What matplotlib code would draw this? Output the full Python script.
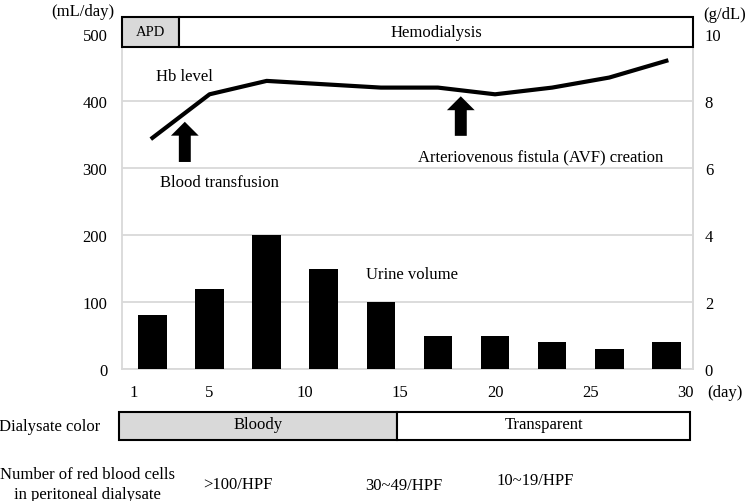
import matplotlib
matplotlib.use("Agg")
import matplotlib.pyplot as plt
from matplotlib.patches import Rectangle
import matplotlib.transforms as mtransforms

plt.rcParams['font.family'] = ['Liberation Serif', 'DejaVu Serif']
plt.rcParams['font.size'] = 12

# ---- data ----
measure_days = [2, 5, 8, 11, 14, 17, 20, 23, 26, 29]
urine_volume = [80, 120, 200, 150, 100, 50, 50, 40, 30, 40]
hb_level = [6.9, 8.2, 8.6, 8.5, 8.4, 8.4, 8.2, 8.4, 8.7, 9.2]
day_ticks = [1, 5, 10, 15, 20, 25, 30]
left_ticks = [0, 100, 200, 300, 400, 500]
right_ticks = [0, 2, 4, 6, 8, 10]
treatment_labels = ["APD", "Hemodialysis"]
treatment_bounds = [0.4, 3.4, 30.4]
treatment_fill = ["#d9d9d9", "white"]
dialysate_labels = ["Bloody", "Transparent"]
dialysate_bounds = [0.4, 15, 30.4]
dialysate_fill = ["#d9d9d9", "white"]
rbc_labels = [">100/HPF", "30~49/HPF", "10~19/HPF"]
rbc_days = [6.5, 15.2, 22.1]
transfusion_day = 3.7
avf_day = 18.2

W, H = 747, 502
FS = 12
fig = plt.figure(figsize=(W / 100, H / 100), dpi=100)
ax = fig.add_axes([122 / W, 1 - 370 / H, 571 / W, 335 / H])

grid_c = "#d9d9d9"
ax.bar(measure_days, urine_volume, width=1.5, color="black", zorder=3)
ax.set_xlim(0.4, 30.4)
ax.set_ylim(0, 500)
ax.set_yticks(left_ticks)
ax.set_xticks(day_ticks)
ax.grid(axis="y", color=grid_c, lw=1.3)
ax.set_axisbelow(True)
ax.tick_params(axis="y", length=0, pad=10.5, labelsize=FS)
ax.tick_params(axis="x", length=0, pad=10.5, labelsize=FS)
ax.spines["top"].set_visible(False)
for s in ["left", "right", "bottom"]:
    ax.spines[s].set_color(grid_c)
    ax.spines[s].set_linewidth(1.3)

ax2 = ax.twinx()
ax2.plot(measure_days, hb_level, color="black", lw=3, zorder=4)
ax2.set_ylim(0, 10)
ax2.set_yticks(right_ticks)
ax2.tick_params(axis="y", length=0, pad=8.5, labelsize=FS)
for s in ["left", "top", "bottom"]:
    ax2.spines[s].set_visible(False)
ax2.spines["right"].set_color(grid_c)
ax2.spines["right"].set_linewidth(1.3)

# top treatment box (in left-axis data coords)
for i, lab in enumerate(treatment_labels):
    x0, x1 = treatment_bounds[i], treatment_bounds[i + 1]
    r = Rectangle((x0, 481), x1 - x0, 44, transform=ax.transData,
                  facecolor=treatment_fill[i], edgecolor="black", lw=1.5,
                  clip_on=False, zorder=5)
    ax2.add_patch(r)
    ax2.text((x0 + x1) / 2, 503, lab, transform=ax.transData,
             ha="center", va="center", fontsize=FS if i else 10.5, zorder=6)

# annotations
ax2.text(2.2, 437, "Hb level", transform=ax.transData, ha="left", va="center", fontsize=FS)
ax2.text(2.4, 279, "Blood transfusion", transform=ax.transData, ha="left", va="center", fontsize=FS)
ax2.text(15.95, 318, "Arteriovenous fistula (AVF) creation", transform=ax.transData,
         ha="left", va="center", fontsize=FS)
ax2.text(13.2, 142, "Urine volume", transform=ax.transData, ha="left", va="center", fontsize=FS)

astyle = "simple,head_length=10,head_width=20,tail_width=8.6"
ax2.annotate("", xy=(transfusion_day, 369), xytext=(transfusion_day, 309),
             xycoords=ax.transData, textcoords=ax.transData,
             arrowprops=dict(arrowstyle=astyle, mutation_scale=1, color="black",
                             shrinkA=0, shrinkB=0, lw=0))
ax2.annotate("", xy=(avf_day, 407), xytext=(avf_day, 348),
             xycoords=ax.transData, textcoords=ax.transData,
             arrowprops=dict(arrowstyle=astyle, mutation_scale=1, color="black",
                             shrinkA=0, shrinkB=0, lw=0))

# axis unit labels
fig.text(83 / W, 1 - 12 / H, "(mL/day)", ha="center", va="center", fontsize=FS)
fig.text(725 / W, 1 - 15 / H, "(g/dL)", ha="center", va="center", fontsize=FS)
fig.text(725 / W, 1 - 393 / H, "(day)", ha="center", va="center", fontsize=FS)

# bottom dialysate color row
bt = mtransforms.blended_transform_factory(ax.transData, fig.transFigure)
yb0, yb1 = 1 - 441 / H, 1 - 413 / H
for i, lab in enumerate(dialysate_labels):
    x0, x1 = dialysate_bounds[i], dialysate_bounds[i + 1]
    r = Rectangle((x0 - 0.15, yb0), x1 - x0, yb1 - yb0, transform=bt,
                  facecolor=dialysate_fill[i], edgecolor="black", lw=1.5, clip_on=False)
    fig.add_artist(r)
    fig.text((x0 + x1) / 2 - 0.15, (yb0 + yb1) / 2 + 0.003, lab, transform=bt,
             ha="center", va="center", fontsize=FS)
fig.text(50 / W, (yb0 + yb1) / 2, "Dialysate color", ha="center", va="center", fontsize=FS)

fig.text(87 / W, 1 - 485 / H, "Number of red blood cells\nin peritoneal dialysate",
         ha="center", va="center", multialignment="center", linespacing=1.3, fontsize=FS)
rbc_y = [1 - 485 / H, 1 - 486 / H, 1 - 481 / H]
for lab, d, yy in zip(rbc_labels, rbc_days, rbc_y):
    fig.text(d, yy, lab, transform=bt, ha="center", va="center", fontsize=FS)

fig.savefig("out.png", dpi=100)
